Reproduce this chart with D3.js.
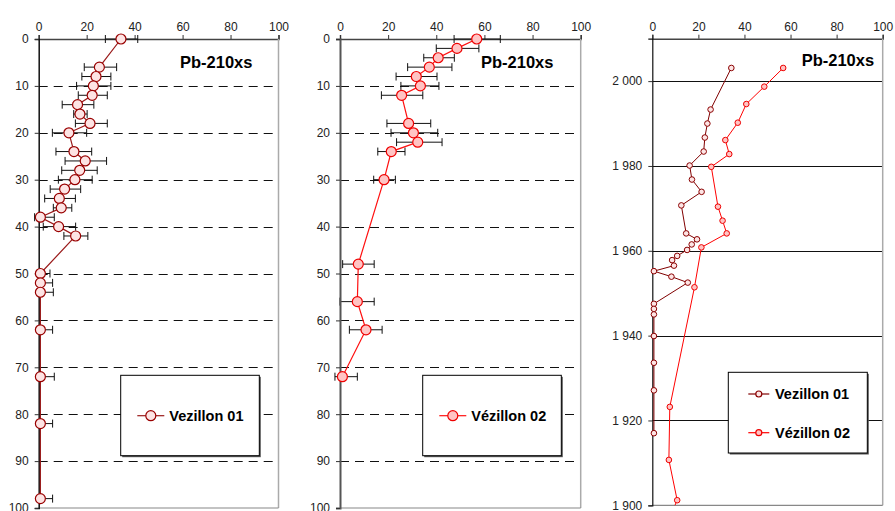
<!DOCTYPE html>
<html>
<head>
<meta charset="utf-8">
<script src="https://cdn.jsdelivr.net/npm/d3@7/dist/d3.min.js"></script>
<style>
  html, body { margin: 0; padding: 0; background: #fff; }
  svg { display: block; font-family: "Liberation Sans", Arial, sans-serif; }
</style>
</head>
<body>
<svg id="chart" width="895" height="511"></svg>
<script>
// Pb-210 excess activity profiles, cores Vezillon 01 and Vézillon 02

// Vezillon 01: depth (cm), activity, error-bar bounds
const depth01 = [0, 6, 8, 10, 12, 14, 16, 18, 20, 24, 26, 28, 30, 32, 34, 36, 38, 40, 42, 50, 52, 54, 62, 72, 82, 98];
const pb01 = [34.3, 25.3, 23.9, 22.8, 22.3, 16.2, 17.2, 21.4, 12.6, 14.7, 19.4, 17.1, 15.1, 10.8, 8.6, 9.4, 0.7, 8.3, 15.4, 0.7, 0.7, 0.7, 0.7, 0.7, 0.7, 0.7];
const pb01Low = [27.8, 19.0, 18.0, 15.8, 16.5, 9.8, 14.6, 15.3, 5.7, 7.2, 11.0, 9.6, 8.2, 4.8, 2.5, 6.1, -1.7, 1.9, 10.5, 0, 0, 0, 0, 0, 0, 0];
const pb01High = [41.3, 32.5, 30.1, 30.1, 28.6, 23.0, 20.2, 28.6, 20.0, 22.1, 28.3, 24.4, 22.3, 17.5, 15.3, 13.8, 6.5, 15.4, 20.5, 4.7, 5.8, 6.1, 5.8, 6.5, 5.8, 5.8];
const year01 = [2003.1, 1993.3, 1990.0, 1986.7, 1983.4, 1980.1, 1976.8, 1973.9, 1970.7, 1964.1, 1962.7, 1961.5, 1960.2, 1958.8, 1957.8, 1956.5, 1955.2, 1953.9, 1952.5, 1947.5, 1946.3, 1945.0, 1939.9, 1933.6, 1927.1, 1917.0];

// Vézillon 02
const depth02 = [0, 2, 4, 6, 8, 10, 12, 18, 20, 22, 24, 30, 48, 56, 62, 72];
const pb02 = [56.8, 48.6, 40.8, 37.1, 31.7, 33.4, 25.6, 28.5, 30.5, 32.3, 21.3, 18.3, 7.6, 7.2, 10.8, 1.0];
const pb02Low = [47.4, 40.0, 34.8, 28.1, 23.3, 25.3, 17.2, 19.5, 21.2, 23.5, 15.7, 14.0, 1.1, 0.0, 3.9, -2.1];
const pb02High = [66.6, 57.7, 47.5, 46.5, 40.3, 41.1, 34.4, 37.7, 40.6, 42.4, 27.0, 23.0, 14.2, 14.2, 17.5, 7.2];
const year02 = [2003.1, 1998.7, 1994.6, 1990.2, 1986.1, 1982.8, 1979.8, 1970.4, 1967.1, 1964.1, 1960.8, 1951.4, 1923.2, 1910.7, 1901.2, 1889.0];

const activityTicks = [0, 20, 40, 60, 80, 100];
const depthTicks = [0, 10, 20, 30, 40, 50, 60, 70, 80, 90, 100];
const depthGrid = [10, 20, 30, 40, 50, 60, 70, 80, 90];
const yearTicks = [1900, 1920, 1940, 1960, 1980, 2000];

const seriesNames = ["Vezillon 01", "Vézillon 02"];
const titleText = "Pb-210xs";

const col01 = { line: "#9a1a1a", stroke: "#990000", fill: "#fde4e4" };
const col02 = { line: "#ff1010", stroke: "#ee0000", fill: "#ffc4c4" };

const svg = d3.select("#chart");
const frLocale = d3.formatLocale({ decimal: ",", thousands: "\u00a0", grouping: [3], currency: ["", " €"] });
const yearFmt = frLocale.format(",d");

function frame(g, x, y, left, right, top, bottom) {
  // top activity axis with outward ticks
  const ax = d3.axisTop(x).tickValues(activityTicks).tickSize(4).tickPadding(4);
  const gx = g.append("g").attr("transform", `translate(0,${top})`).call(ax);
  gx.select(".domain").attr("stroke", "#444").attr("stroke-width", 1.5);
  gx.selectAll(".tick line").attr("stroke", "#333");
  gx.selectAll(".tick text").attr("font-size", 12).attr("fill", "#222")
    .attr("font-family", "Liberation Sans, Arial, sans-serif");
  // right and bottom plot edges
  g.append("line").attr("x1", right).attr("x2", right).attr("y1", top).attr("y2", bottom)
    .attr("stroke", "#aaa").attr("stroke-width", 1.5);
  g.append("line").attr("x1", left).attr("x2", right).attr("y1", bottom).attr("y2", bottom)
    .attr("stroke", "#888").attr("stroke-width", 1.2);
}

function leftAxis(g, y, left, ticks, fmt, color, width) {
  const ay = d3.axisLeft(y).tickValues(ticks).tickSize(4).tickPadding(6).tickFormat(fmt);
  const gy = g.append("g").attr("transform", `translate(${left},0)`).call(ay);
  gy.select(".domain").attr("stroke", color).attr("stroke-width", width);
  gy.selectAll(".tick line").attr("stroke", "#333");
  gy.selectAll(".tick text").attr("font-size", 12).attr("fill", "#222")
    .attr("font-family", "Liberation Sans, Arial, sans-serif");
}

function title(g, x, yBase) {
  g.append("text").attr("x", x).attr("y", yBase).text(titleText)
    .attr("font-size", 16.5).attr("font-weight", "bold").attr("fill", "#000");
}

function legendBox(g, bx, by, bw, bh) {
  g.append("rect").attr("x", bx + 1.5).attr("y", by + 1.5).attr("width", bw).attr("height", bh)
    .attr("fill", "#555");
  g.append("rect").attr("x", bx).attr("y", by).attr("width", bw).attr("height", bh)
    .attr("fill", "#fff").attr("stroke", "#000").attr("stroke-width", 1);
}

function legendEntry(g, x1, x2, yy, r, c, name, textX) {
  g.append("line").attr("x1", x1).attr("x2", x2).attr("y1", yy).attr("y2", yy)
    .attr("stroke", c.line).attr("stroke-width", 1.2);
  g.append("circle").attr("cx", (x1 + x2) / 2).attr("cy", yy).attr("r", r)
    .attr("fill", c.fill).attr("stroke", c.stroke).attr("stroke-width", 1.2);
  g.append("text").attr("x", textX).attr("y", yy + 5).text(name)
    .attr("font-size", 14.5).attr("font-weight", "bold").attr("fill", "#000");
}

// Depth profile panel with error bars
function depthPanel(opts) {
  const { left, right, top, bottom, depth, vals, lo, hi, c, name, titleX, legX, axisColor, axisWidth } = opts;
  const g = svg.append("g");
  const x = d3.scaleLinear().domain([0, 100]).range([left, right]);
  const y = d3.scaleLinear().domain([0, 100]).range([top, bottom]);

  // dashed horizontal gridlines
  g.append("g").selectAll("line").data(depthGrid).join("line")
    .attr("x1", left).attr("x2", right)
    .attr("y1", d => Math.round(y(d)) + 0.5).attr("y2", d => Math.round(y(d)) + 0.5)
    .attr("stroke", "#111").attr("stroke-width", 1).attr("stroke-dasharray", "9,6");

  frame(g, x, y, left, right, top, bottom);
  title(g, titleX, 67.5);

  legendBox(g, legX, 375.3, 138.6, 80.4);
  legendEntry(g, legX + 16.6, legX + 43.6, 415.7, 5, c, name, legX + 48.6);

  const pts = depth.map((d, i) => ({ d, v: vals[i], lo: lo[i], hi: hi[i] }));

  // error bars
  const eb = g.append("g").attr("stroke", "#111").attr("stroke-width", 1);
  eb.selectAll("line.h").data(pts).join("line").attr("class", "h")
    .attr("x1", p => x(p.lo)).attr("x2", p => x(p.hi))
    .attr("y1", p => y(p.d)).attr("y2", p => y(p.d));
  eb.selectAll("line.l").data(pts).join("line").attr("class", "l")
    .attr("x1", p => x(p.lo)).attr("x2", p => x(p.lo))
    .attr("y1", p => y(p.d) - 4).attr("y2", p => y(p.d) + 4);
  eb.selectAll("line.r").data(pts).join("line").attr("class", "r")
    .attr("x1", p => x(p.hi)).attr("x2", p => x(p.hi))
    .attr("y1", p => y(p.d) - 4).attr("y2", p => y(p.d) + 4);

  leftAxis(g, y, left, depthTicks, d3.format("d"), axisColor, axisWidth);

  g.append("path").datum(pts)
    .attr("d", d3.line().x(p => x(p.v)).y(p => y(p.d)))
    .attr("fill", "none").attr("stroke", c.line).attr("stroke-width", 1.2);

  g.append("g").selectAll("circle").data(pts).join("circle")
    .attr("cx", p => x(p.v)).attr("cy", p => y(p.d)).attr("r", 5)
    .attr("fill", c.fill).attr("stroke", c.stroke).attr("stroke-width", 1.2);
}

depthPanel({ left: 38.7, right: 278.5, top: 39, bottom: 508, depth: depth01, vals: pb01, lo: pb01Low, hi: pb01High,
  c: col01, name: seriesNames[0], titleX: 180, legX: 120.7, axisColor: "#111", axisWidth: 1.5 });
depthPanel({ left: 340, right: 580.7, top: 39, bottom: 508, depth: depth02, vals: pb02, lo: pb02Low, hi: pb02High,
  c: col02, name: seriesNames[1], titleX: 481, legX: 422.7, axisColor: "#555", axisWidth: 2 });

// Dated profiles panel
(function () {
  const left = 652.3, right = 882.7, top = 38.7, bottom = 505.3;
  const g = svg.append("g");
  const x = d3.scaleLinear().domain([0, 100]).range([left, right]);
  const y = d3.scaleLinear().domain([1900, 2010]).range([bottom, top]);

  svg.append("defs").append("clipPath").attr("id", "clip3")
    .append("rect").attr("x", left - 6).attr("y", top).attr("width", right - left + 12).attr("height", bottom - top);

  g.append("g").selectAll("line").data(yearTicks.filter(t => t > 1900)).join("line")
    .attr("x1", left).attr("x2", right)
    .attr("y1", d => Math.round(y(d)) + 0.5).attr("y2", d => Math.round(y(d)) + 0.5)
    .attr("stroke", "#111").attr("stroke-width", 1);

  frame(g, x, y, left, right, top, bottom);
  leftAxis(g, y, left, yearTicks, yearFmt, "#111", 1.2);
  title(g, 801.7, 66.3);

  const plot = g.append("g").attr("clip-path", "url(#clip3)");
  const series = [
    { yrs: year01, vals: pb01, c: { line: "#800000", stroke: "#8a0000", fill: "#fde4e4" } },
    { yrs: year02, vals: pb02, c: { line: "#ff0000", stroke: "#ee0000", fill: "#ffc4c4" } }
  ];
  series.forEach(s => {
    const pts = s.yrs.map((yr, i) => ({ yr, v: s.vals[i] }));
    plot.append("path").datum(pts)
      .attr("d", d3.line().x(p => x(p.v)).y(p => y(p.yr)))
      .attr("fill", "none").attr("stroke", s.c.line).attr("stroke-width", 1);
    plot.append("g").selectAll("circle").data(pts).join("circle")
      .attr("cx", p => x(p.v)).attr("cy", p => y(p.yr)).attr("r", 2.8)
      .attr("fill", s.c.fill).attr("stroke", s.c.stroke).attr("stroke-width", 1);
  });

  legendBox(g, 728.3, 372.3, 139, 80.7);
  legendEntry(g, 748.3, 769.3, 394, 3, series[0].c, seriesNames[0], 775);
  legendEntry(g, 748.3, 769.3, 432.7, 3, series[1].c, seriesNames[1], 775);
})();
</script>
</body>
</html>
